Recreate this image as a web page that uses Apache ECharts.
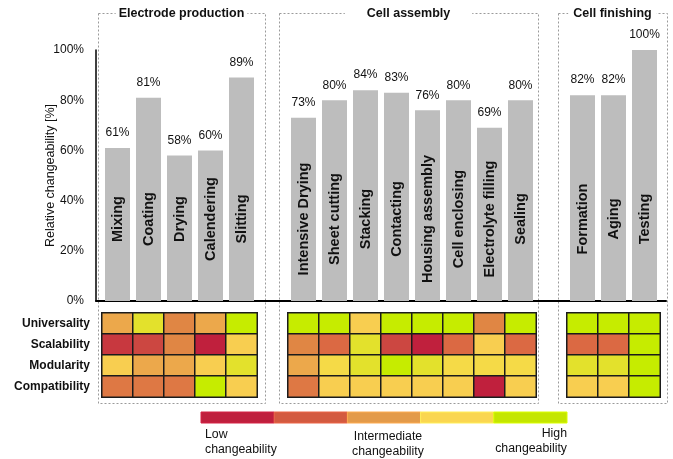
<!DOCTYPE html>
<html>
<head>
<meta charset="utf-8">
<script src="https://cdn.jsdelivr.net/npm/echarts@6/dist/echarts.min.js"></script>
<style>
  html, body { margin: 0; padding: 0; background: #fff; }
  #chart { width: 673px; height: 459px; }
</style>
</head>
<body>
<div id="chart"></div>
<script>
// Process steps; '' marks the spacer slot between production stages
const steps = [
  'Mixing', 'Coating', 'Drying', 'Calendering', 'Slitting', '',
  'Intensive Drying', 'Sheet cutting', 'Stacking', 'Contacting', 'Housing assembly',
  'Cell enclosing', 'Electrolyte filling', 'Sealing', '',
  'Formation', 'Aging', 'Testing'
];

// Relative changeability per step [%]
const changeability = [61, 81, 58, 60, 89, null, 73, 80, 84, 83, 76, 80, 69, 80, null, 82, 82, 100];

// Criteria ratings, 1 = low ... 11 = high changeability
const criteria = ['Universality', 'Scalability', 'Modularity', 'Compatibility'];
const universality  = [7, 10, 6, 7, 11, null, 11, 11, 8, 11, 11, 11, 6, 11, null, 11, 11, 11];
const scalability   = [2, 3, 6, 1, 8, null, 6, 4, 10, 3, 1, 4, 8, 4, null, 4, 4, 11];
const modularity    = [8, 7, 7, 8, 10, null, 7, 9, 10, 11, 10, 9, 9, 9, null, 10, 10, 11];
const compatibility = [5, 5, 5, 11, 8, null, 5, 8, 8, 8, 8, 8, 1, 8, null, 8, 8, 11];

// Colour for each rating level
const levelColors = [
  '#C0203D', '#C8383F', '#CC4741', '#DB6943', '#DE7844', '#E08644',
  '#ECA84B', '#F8CE50', '#F5DA47', '#E3E12C', '#C6EC00'
];

// Colour scale key
const keyColors = ['#BF1F3D', '#D35A40', '#E39A49', '#FAD650', '#C4E600'];

// Production stages framed by dashed boxes
const stages = [
  { name: 'Electrode production', left: 98, right: 265, pad: 3 },
  { name: 'Cell assembly', left: 279, right: 538, pad: 22 },
  { name: 'Cell finishing', left: 558, right: 667, pad: 5 }
];

const ratingRows = [universality, scalability, modularity, compatibility];
const heatData = [];
ratingRows.forEach((row, r) => {
  row.forEach((v, c) => { if (v != null) heatData.push([c, r, v]); });
});

const FONT = "'Liberation Sans', Arial, sans-serif";
const TXT = '#111';

const graphics = [];
stages.forEach(s => {
  graphics.push({
    type: 'rect', silent: true, z: 0,
    shape: { x: s.left + 0.5, y: 13.5, width: s.right - s.left, height: 390 },
    style: { fill: null, stroke: '#9a9a9a', lineWidth: 1, lineDash: [2, 2] }
  });
  graphics.push({
    type: 'text', silent: true, z: 1,
    x: (s.left + s.right) / 2, y: 14,
    style: {
      text: s.name, font: 'bold 12.5px ' + FONT, fill: TXT,
      align: 'center', verticalAlign: 'middle',
      backgroundColor: '#fff', padding: [2, s.pad]
    }
  });
});
const keyLeft = 201, keyWidth = 366, seg = keyWidth / keyColors.length;
keyColors.forEach((c, i) => {
  graphics.push({
    type: 'rect', silent: true,
    shape: { x: keyLeft + i * seg, y: 412, width: seg, height: 11 },
    style: { fill: c, stroke: echarts.color.lift(c, -0.12), lineWidth: 1 }
  });
});
const keyText = [
  { text: 'Low\nchangeability', x: 205, align: 'left', y: 427 },
  { text: 'Intermediate\nchangeability', x: 388, align: 'center', y: 429 },
  { text: 'High\nchangeability', x: 567, align: 'right', y: 426 }
];
keyText.forEach(k => {
  graphics.push({
    type: 'text', silent: true, x: k.x, y: k.y,
    style: { text: k.text, font: '12.3px ' + FONT, fill: TXT, align: k.align, verticalAlign: 'top', lineHeight: 15 }
  });
});

const chart = echarts.init(document.getElementById('chart'));
chart.setOption({
  animation: false,
  backgroundColor: '#fff',
  textStyle: { fontFamily: FONT },
  grid: [
    { left: 102, right: 13, top: 50, bottom: 158 },
    { left: 102, right: 13, top: 313, bottom: 62 },
    { left: 96, right: 7, top: 50, bottom: 158 }
  ],
  xAxis: [
    {
      gridIndex: 0, type: 'category', data: steps,
      axisLine: { show: false }, axisTick: { show: false },
      axisLabel: {
        interval: 0, inside: true, rotate: 90, margin: 82,
        align: 'center', verticalAlign: 'middle',
        fontWeight: 'bold', fontSize: 14.5, color: TXT, fontFamily: FONT
      },
      z: 5
    },
    {
      gridIndex: 1, type: 'category', data: steps,
      axisLine: { show: false }, axisTick: { show: false }, axisLabel: { show: false },
      splitLine: { show: false }
    },
    {
      gridIndex: 2, type: 'value', min: 0, max: 1,
      axisLine: { show: true, lineStyle: { color: '#000', width: 2 } },
      axisTick: { show: false }, axisLabel: { show: false }, splitLine: { show: false }
    }
  ],
  yAxis: [
    {
      gridIndex: 0, type: 'value', min: 0, max: 100, interval: 20, offset: 6,
      name: 'Relative changeability [%]', nameLocation: 'middle', nameGap: 39,
      nameMoveOverlap: false,
      nameTextStyle: { fontSize: 12.5, color: TXT, fontFamily: FONT },
      axisLine: { show: true, lineStyle: { color: '#000', width: 1.5 } },
      axisTick: { show: false },
      axisLabel: { formatter: '{value}%', fontSize: 12, color: TXT, margin: 12, fontFamily: FONT },
      splitLine: { show: false }
    },
    {
      gridIndex: 1, type: 'category', data: criteria, inverse: true,
      axisLine: { show: false }, axisTick: { show: false },
      axisLabel: { fontWeight: 'bold', fontSize: 12, color: TXT, margin: 12, fontFamily: FONT }
    },
    {
      gridIndex: 2, type: 'value', show: false
    }
  ],
  visualMap: {
    type: 'piecewise', show: false, seriesIndex: 1, dimension: 2,
    pieces: levelColors.map((c, i) => ({ value: i + 1, color: c }))
  },
  series: [
    {
      type: 'bar', xAxisIndex: 0, yAxisIndex: 0,
      data: changeability, barWidth: 25,
      itemStyle: { color: '#BDBDBD' },
      label: {
        show: true, position: 'top', distance: 9,
        formatter: p => p.value + '%',
        fontSize: 12, color: TXT, fontFamily: FONT
      },
      z: 2
    },
    {
      type: 'heatmap', xAxisIndex: 1, yAxisIndex: 1,
      data: heatData,
      itemStyle: { borderColor: '#1b1b1b', borderWidth: 1.5 },
      emphasis: { disabled: true }
    }
  ],
  graphic: graphics
});
</script>
</body>
</html>
